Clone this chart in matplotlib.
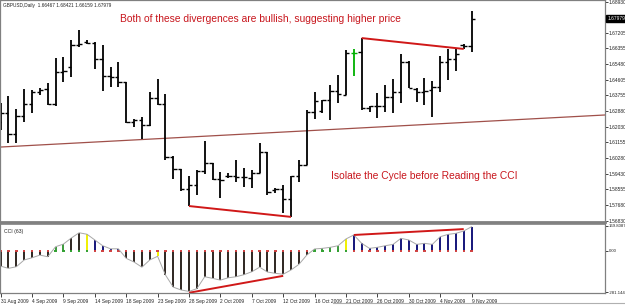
import matplotlib
matplotlib.use("Agg")
import matplotlib.pyplot as plt
from matplotlib.lines import Line2D

W, H = 625, 305

# ---------------- data ----------------
opens = [1.6228, 1.6278, 1.6162, 1.6261, 1.6328, 1.6394, 1.6411, 1.6328, 1.6505, 1.6532,
         1.6654, 1.6670, 1.6665, 1.6577, 1.6482, 1.6477, 1.6449, 1.6228, 1.6239, 1.6212,
         1.6361, 1.6328, 1.6035, 1.5969, 1.5858, 1.5880, 1.5958, 1.6002, 1.5914, 1.5930,
         1.5930, 1.5925, 1.5919, 1.5947, 1.6063, 1.5853, 1.5858, 1.5803, 1.5930, 1.5991,
         1.6284, 1.6289, 1.6350, 1.6400, 1.6378, 1.6610, 1.6615, 1.6306, 1.6317, 1.6317,
         1.6367, 1.6394, 1.6560, 1.6411, 1.6394, 1.6405, 1.6422, 1.6560, 1.6577, 1.6654,
         1.66467]
highs = [1.6333, 1.6372, 1.6300, 1.6411, 1.6405, 1.6416, 1.6444, 1.6582, 1.6588, 1.6681,
         1.6737, 1.6681, 1.6670, 1.6654, 1.6532, 1.6560, 1.6449, 1.6245, 1.6256, 1.6394,
         1.6466, 1.6383, 1.6041, 1.5969, 1.5930, 1.5963, 1.6123, 1.6002, 1.5952, 1.5947,
         1.6018, 1.5974, 1.5963, 1.6112, 1.6063, 1.5864, 1.5880, 1.5930, 1.6018, 1.6295,
         1.6394, 1.6350, 1.6433, 1.6488, 1.6626, 1.6632, 1.6692, 1.6317, 1.6389, 1.6433,
         1.6466, 1.6604, 1.6565, 1.6416, 1.6471, 1.6455, 1.6593, 1.6632, 1.6632, 1.6659,
         1.68421]
lows = [1.6184, 1.6112, 1.6112, 1.6228, 1.6278, 1.6378, 1.6322, 1.6317, 1.6449, 1.6477,
        1.6643, 1.6659, 1.6521, 1.6400, 1.6422, 1.6422, 1.6223, 1.6201, 1.6134, 1.6206,
        1.6322, 1.6018, 1.5914, 1.5847, 1.5764, 1.5825, 1.5941, 1.5908, 1.5808, 1.5919,
        1.5897, 1.5869, 1.5864, 1.5947, 1.5825, 1.5836, 1.5726, 1.5704, 1.5897, 1.5991,
        1.6245, 1.6278, 1.6239, 1.6333, 1.6378, 1.6482, 1.6295, 1.6284, 1.6250, 1.6284,
        1.6278, 1.6333, 1.6416, 1.6339, 1.6322, 1.6256, 1.6394, 1.6460, 1.6510, 1.6632,
        1.66159]
closes = [1.6278, 1.6162, 1.6261, 1.6328, 1.6394, 1.6405, 1.6328, 1.6505, 1.6510, 1.6654,
          1.6659, 1.6665, 1.6577, 1.6482, 1.6477, 1.6449, 1.6228, 1.6239, 1.6212, 1.6361,
          1.6328, 1.6035, 1.5969, 1.5858, 1.5880, 1.5958, 1.6002, 1.5914, 1.5908, 1.5930,
          1.5925, 1.5925, 1.5947, 1.6063, 1.5842, 1.5858, 1.5803, 1.5930, 1.5991, 1.6284,
          1.6344, 1.6350, 1.6400, 1.6383, 1.6610, 1.6610, 1.6306, 1.6317, 1.6317, 1.6367,
          1.6394, 1.6560, 1.6416, 1.6394, 1.6400, 1.6422, 1.6560, 1.6577, 1.6604, 1.6648,
          1.67979]
highlight_bar = 45  # green bar

cci = [-105, -120, -109, -63, -48, -30, -41, 27, 45, 86,
       122, 112, 73, 34, 13, 13, -52, -77, -112, -63,
       -38, -165, -248, -267, -277, -258, -177, -188, -200, -184,
       -177, -163, -143, -112, -145, -154, -160, -131, -93, -30,
       12, 16, 23, 34, 80, 107, 50, 16, 23, 34,
       43, 84, 73, 43, 50, 43, 95, 111, 118, 134,
       163]
# histogram colour codes: d=dark, g=green, y=yellow, b=blue
cci_codes = list("dddddddggd" "dybbbbdddd" "yddddddddd" "dddddddddd" "ggggybbbbb" "bbbbbbbbbb" "b")

date_labels = ["31 Aug 2009", "4 Sep 2009", "9 Sep 2009", "14 Sep 2009", "18 Sep 2009",
               "23 Sep 2009", "28 Sep 2009", "2 Oct 2009", "7 Oct 2009", "12 Oct 2009",
               "16 Oct 2009", "21 Oct 2009", "26 Oct 2009", "30 Oct 2009", "4 Nov 2009",
               "9 Nov 2009"]
date_positions = list(range(0, 61, 4))

price_ticks = [1.68930, 1.67205, 1.66355, 1.65480, 1.64605, 1.63755, 1.62880, 1.62030,
               1.61155, 1.60280, 1.59430, 1.58555, 1.57680, 1.56830]
cci_ticks = [169.8087, 0.00, -281.144]
cci_tick_labels = ["169.8087", "0.00", "-281.144"]

# divergence / trend lines (bar index, value)
price_low_div = ([24, 37], [1.5764, 1.5704])
price_high_div = ([46, 59], [1.6692, 1.6632])
trend_pts = ((0, 1.6090), (60, 1.6228))
cci_low_div = ([24, 36], [-286, -171])
cci_high_div = ([45, 59], [107, 147])

header = "GBPUSD,Daily  1.66467 1.68421 1.66159 1.67979"
text1 = "Both of these divergences are bullish, suggesting higher price"
text2 = "Isolate the Cycle before Reading the CCI"

# ---------------- figure ----------------
small_font = ["Liberation Sans", "DejaVu Sans"]
SF = 3.5
fig = plt.figure(figsize=(W / 100, H / 100), dpi=100)
fig.patch.set_facecolor("white")

def px_axes(x0, y0, x1, y1):
    return fig.add_axes([x0 / W, 1 - y1 / H, (x1 - x0) / W, (y1 - y0) / H])

ax = px_axes(0, 0, 605, 222)
ax2 = px_axes(0, 224, 605, 293)

n = len(opens)
xs = list(range(n))
xlim = (-0.08, 77.0)

# price bars
bar_colors = ["#00b000" if i == highlight_bar else "black" for i in xs]
ax.vlines(xs, lows, highs, colors=bar_colors, linewidth=1.3)
tk = 0.42
ax.hlines(opens, [x - tk for x in xs], xs, colors=bar_colors, linewidth=1.0)
ax.hlines(closes, xs, [x + tk for x in xs], colors=bar_colors, linewidth=1.0)

ax.axline(trend_pts[0], trend_pts[1], color="#a0504a", linewidth=0.9, zorder=1)
red = "#d01818"
ax.plot(*price_low_div, color=red, linewidth=1.4, solid_capstyle="butt")
ax.plot(*price_high_div, color=red, linewidth=1.4, solid_capstyle="butt")

ax.set_xlim(*xlim)
ax.set_ylim(1.56758, 1.69024)
ax.set_xticks([])
ax.yaxis.tick_right()
ax.set_yticks(price_ticks)
ax.set_yticklabels([f"{t:.5f}" for t in price_ticks], family=small_font)
ax.tick_params(axis="y", direction="out", length=2.0, width=0.6, pad=0.6,
               labelsize=SF, colors="#222222")
for s in ax.spines.values():
    s.set_color("#808080")
    s.set_linewidth(0.9)
ax.spines["bottom"].set_linewidth(2.0)

# current price box
ax.text(1.004, closes[-1], f"{closes[-1]:.5f}", transform=ax.get_yaxis_transform(),
        fontsize=SF, color="white", va="center", ha="left", family=small_font,
        bbox=dict(boxstyle="square,pad=0.2", fc="black", ec="black"))

# ---------------- CCI ----------------
cmap = {"d": "#2e2620", "g": "#3a9a3a", "y": "#f0f000", "b": "#15157a"}
hcols = [cmap[c] for c in cci_codes]
ax2.vlines(xs, 0, cci, colors=hcols, linewidth=1.4)
mark_cols = ["#30a030" if (v > 0 and c != "b") else "#d04040" for v, c in zip(cci, cci_codes)]
ax2.hlines([0] * n, [x - 0.15 for x in xs], [x + 0.15 for x in xs], colors=mark_cols, linewidth=1.4)
ax2.plot(xs, cci, color="#a8a8a8", linewidth=0.7)
ax2.plot(*cci_low_div, color=red, linewidth=1.4, solid_capstyle="butt")
ax2.plot(*cci_high_div, color=red, linewidth=1.4, solid_capstyle="butt")

ax2.set_xlim(*xlim)
ax2.set_ylim(-287.6, 181.6)
ax2.yaxis.tick_right()
ax2.set_yticks(cci_ticks)
ax2.set_yticklabels(cci_tick_labels, family=small_font)
ax2.tick_params(axis="y", direction="out", length=2.0, width=0.6, pad=0.5,
                labelsize=3.1, colors="#222222")
ax2.set_xticks(date_positions)
ax2.set_xticklabels(date_labels, ha="left", family=small_font)
ax2.tick_params(axis="x", direction="out", length=3, width=0.6, pad=1.5,
                labelsize=3.5, colors="#222222")
for s in ax2.spines.values():
    s.set_color("#808080")
    s.set_linewidth(0.9)
ax2.spines["top"].set_linewidth(1.2)

ax2.text(0.006, 0.93, "CCI (63)", transform=ax2.transAxes, fontsize=3.7,
         color="#222222", va="top", ha="left", family=small_font)

# ---------------- texts ----------------
fig.text(3 / W, 1 - 5.5 / H, header, fontsize=3.4, color="#222222", va="center", ha="left",
         family=small_font)
fig.text(120 / W, 1 - 19.5 / H, text1, fontsize=7.4, color="#c8161d", va="center",
         ha="left", family="Liberation Sans")
fig.text(331 / W, 1 - 176 / H, text2, fontsize=7.4, color="#c8161d", va="center",
         ha="left", family="Liberation Sans")

fig.add_artist(Line2D([333 / W, 1], [1 - 303 / H, 1 - 303 / H], color="#b0b0b0",
                      linewidth=0.8, transform=fig.transFigure))

fig.savefig("out.png", dpi=100, facecolor="white")
